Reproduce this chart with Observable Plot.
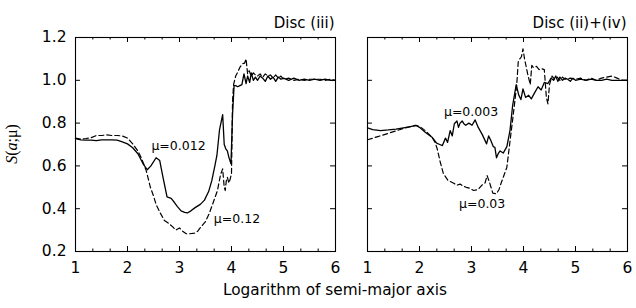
<!DOCTYPE html>
<html>
<head>
<meta charset="utf-8">
<script src="https://cdn.jsdelivr.net/npm/d3@7"></script>
<script src="https://cdn.jsdelivr.net/npm/@observablehq/plot@0.6"></script>
<style>
  html, body { margin: 0; padding: 0; background: #fff; }
  #wrap { position: relative; width: 636px; height: 308px; font-family: "DejaVu Sans", sans-serif; }
  #xlabel { position: absolute; left: 0; width: 670px; top: 281px; text-align: center; font-size: 15.3px; color: #000; }
  #ylabel { position: absolute; left: 12px; top: 144px; transform: translate(-50%, -50%) rotate(-90deg); font-family: "Liberation Serif", "DejaVu Serif", serif; font-size: 16px; white-space: nowrap; color: #000; }
</style>
</head>
<body>
<div id="wrap">
  <div id="chart"></div>
  <div id="xlabel">Logarithm of semi-major axis</div>
  <div id="ylabel"><i>S</i>(<i>a</i>;μ)</div>
</div>
<script>
// Panels and titles
const panels = ["iii", "ii+iv"];
const panelTitles = ["Disc (iii)", "Disc (ii)+(iv)"];

// Axis ticks
const xTicks = [1, 2, 3, 4, 5, 6];
const yTicks = [0.2, 0.4, 0.6, 0.8, 1.0, 1.2];

// Left panel, solid: mu = 0.012
const leftSolidX = [1.0,1.1,1.2,1.3,1.4,1.5,1.6,1.7,1.8,1.9,2.0,2.1,2.2,2.3,2.38,2.45,2.55,2.62,2.68,2.76,2.84,2.9,2.96,3.03,3.1,3.15,3.22,3.3,3.4,3.48,3.56,3.62,3.68,3.72,3.77,3.83,3.86,3.89,3.92,3.95,3.99,4.02,4.05,4.08,4.12,4.16,4.2,4.24,4.28,4.31,4.35,4.38,4.42,4.46,4.5,4.55,4.6,4.65,4.7,4.75,4.8,4.85,4.9,4.95,5.0,5.1,5.2,5.3,5.4,5.5,5.6,5.7,5.8,5.9,6.0];
const leftSolidY = [0.728,0.722,0.720,0.720,0.718,0.722,0.722,0.722,0.720,0.712,0.703,0.685,0.657,0.61,0.582,0.60,0.638,0.625,0.55,0.455,0.448,0.43,0.41,0.39,0.383,0.38,0.39,0.405,0.42,0.44,0.48,0.53,0.60,0.65,0.77,0.84,0.70,0.68,0.67,0.64,0.61,0.84,0.975,0.975,0.97,0.975,0.98,1.03,0.985,1.02,0.99,1.035,1.0,1.015,1.0,1.02,1.01,0.995,1.02,1.005,1.015,0.995,1.015,1.005,1.01,1.0,1.01,1.0,1.005,1.0,1.005,1.0,1.005,1.0,1.0];

// Left panel, dashed: mu = 0.12
const leftDashX = [1.0,1.1,1.2,1.3,1.4,1.5,1.6,1.7,1.8,1.9,2.0,2.1,2.2,2.26,2.31,2.36,2.44,2.5,2.55,2.63,2.71,2.8,2.87,2.93,3.0,3.06,3.13,3.2,3.29,3.35,3.41,3.5,3.57,3.65,3.73,3.79,3.83,3.86,3.88,3.9,3.92,3.95,3.97,4.0,4.02,4.04,4.08,4.12,4.16,4.21,4.25,4.28,4.31,4.34,4.38,4.42,4.46,4.5,4.55,4.6,4.65,4.7,4.75,4.8,4.85,4.9,4.95,5.0,5.1,5.2,5.3,5.4,5.5,5.6,5.7,5.8,5.9,6.0];
const leftDashY = [0.73,0.725,0.728,0.732,0.742,0.742,0.745,0.742,0.742,0.74,0.73,0.703,0.67,0.64,0.61,0.578,0.50,0.46,0.42,0.38,0.345,0.33,0.315,0.30,0.31,0.295,0.283,0.283,0.286,0.295,0.314,0.34,0.376,0.43,0.485,0.56,0.586,0.50,0.485,0.53,0.547,0.52,0.535,0.563,0.90,0.98,1.02,1.038,1.06,1.077,1.08,1.10,1.03,1.045,1.02,1.035,1.025,1.02,1.03,1.015,1.03,1.02,1.025,1.01,1.025,1.01,1.02,1.005,1.01,1.0,1.005,1.0,1.005,1.005,1.005,1.0,1.005,1.0];

// Right panel, solid: mu = 0.003
const rightSolidX = [1.0,1.1,1.25,1.4,1.55,1.69,1.8,1.94,2.0,2.11,2.24,2.33,2.39,2.44,2.5,2.54,2.59,2.63,2.67,2.72,2.75,2.78,2.82,2.86,2.89,2.95,3.01,3.07,3.13,3.21,3.29,3.33,3.37,3.42,3.45,3.48,3.52,3.55,3.61,3.68,3.74,3.79,3.86,3.91,3.95,3.99,4.04,4.1,4.15,4.21,4.28,4.34,4.4,4.47,4.53,4.58,4.62,4.66,4.7,4.75,4.8,4.85,4.9,4.95,5.0,5.1,5.2,5.3,5.4,5.5,5.6,5.7,5.8,5.9,6.0];
const rightSolidY = [0.778,0.77,0.765,0.768,0.772,0.778,0.782,0.789,0.78,0.757,0.734,0.706,0.70,0.695,0.73,0.71,0.765,0.74,0.797,0.81,0.78,0.80,0.81,0.795,0.79,0.80,0.79,0.815,0.78,0.745,0.703,0.74,0.72,0.69,0.687,0.638,0.66,0.67,0.66,0.69,0.765,0.88,0.98,0.93,0.91,0.96,0.92,0.93,0.913,0.94,0.97,0.955,0.99,0.985,1.01,1.0,1.02,0.995,1.015,1.0,1.01,1.005,0.995,1.01,1.0,1.005,1.0,1.005,1.0,1.0,1.005,1.0,1.0,1.0,1.0];

// Right panel, dashed: mu = 0.03
const rightDashX = [1.0,1.2,1.4,1.6,1.69,1.8,1.92,2.0,2.11,2.24,2.3,2.34,2.4,2.46,2.55,2.65,2.72,2.78,2.84,2.9,2.97,3.04,3.13,3.2,3.26,3.3,3.35,3.41,3.48,3.53,3.57,3.63,3.68,3.75,3.82,3.87,3.9,3.96,3.99,4.02,4.08,4.13,4.16,4.19,4.25,4.3,4.34,4.4,4.44,4.47,4.5,4.55,4.6,4.65,4.7,4.75,4.8,4.9,5.0,5.1,5.2,5.3,5.4,5.5,5.6,5.7,5.8,5.9,6.0];
const rightDashY = [0.722,0.737,0.752,0.768,0.775,0.782,0.789,0.785,0.765,0.734,0.71,0.68,0.617,0.563,0.532,0.52,0.51,0.515,0.505,0.50,0.495,0.485,0.49,0.51,0.52,0.555,0.52,0.473,0.47,0.49,0.52,0.56,0.594,0.734,0.874,0.98,1.09,1.11,1.147,1.10,1.03,0.98,1.07,1.06,1.065,1.05,1.055,1.05,0.92,0.89,0.98,1.02,1.005,1.015,1.0,1.015,1.005,1.01,1.005,1.01,1.0,1.01,1.0,1.01,1.015,1.02,1.01,1.0,1.0];

// Curve annotations
const annoPanel = ["iii", "iii", "ii+iv", "ii+iv"];
const annoText = ["μ=0.012", "μ=0.12", "μ=0.003", "μ=0.03"];
const annoX = [2.46, 3.66, 2.47, 2.76];
const annoY = [0.695, 0.354, 0.851, 0.42];

// Build tables
function series(panel, dashed, xs, ys) {
  return xs.map((x, i) => ({panel, dashed, x, y: ys[i]}));
}
const solid = [...series("iii", false, leftSolidX, leftSolidY), ...series("ii+iv", false, rightSolidX, rightSolidY)];
const dashed = [...series("iii", true, leftDashX, leftDashY), ...series("ii+iv", true, rightDashX, rightDashY)];
const titles = panels.map((p, i) => ({panel: p, text: panelTitles[i]}));
const annos = annoText.map((t, i) => ({panel: annoPanel[i], text: t, x: annoX[i], y: annoY[i]}));

const minorX = [];
for (let k = 1; k < 6; k++) { minorX.push(k + 1/3, k + 2/3); }

const pxX = 5 / 52.2;     // tick length in x units
const pxY = 0.2 / 42.8;   // per pixel in y units
const font = "'DejaVu Sans', sans-serif";

const chart = Plot.plot({
  width: 636,
  height: 308,
  marginTop: 37,
  marginBottom: 57,
  marginLeft: 74,
  marginRight: 8,
  style: {fontFamily: font, background: "white", color: "black"},
  fx: {domain: panels, paddingInner: 0.109, paddingOuter: 0, axis: null, label: null},
  x: {domain: [1, 6], axis: null},
  y: {domain: [0.2, 1.2], axis: null},
  marks: [
    Plot.frame({stroke: "black", strokeWidth: 1.1}),
    // inward ticks
    Plot.ruleX(xTicks, {x: d => d, y1: 0.2, y2: 0.2 + 5 * pxY, stroke: "black"}),
    Plot.ruleX(xTicks, {x: d => d, y1: 1.2, y2: 1.2 - 5 * pxY, stroke: "black"}),
    Plot.ruleX(minorX, {x: d => d, y1: 0.2, y2: 0.2 + 2.5 * pxY, stroke: "black"}),
    Plot.ruleX(minorX, {x: d => d, y1: 1.2, y2: 1.2 - 2.5 * pxY, stroke: "black"}),
    Plot.ruleY(yTicks, {y: d => d, x1: 1, x2: 1 + pxX, stroke: "black"}),
    Plot.ruleY(yTicks, {y: d => d, x1: 6, x2: 6 - pxX, stroke: "black"}),
    // tick labels
    Plot.axisY(yTicks, {anchor: "left", tickSize: 0, tickPadding: 9, tickFormat: d => d.toFixed(1), fontSize: 15.5, label: null}),
    Plot.axisX(xTicks, {anchor: "bottom", tickSize: 0, tickPadding: 10, tickFormat: d => String(d), fontSize: 15.5, label: null}),
    // curves
    Plot.line(solid, {fx: "panel", x: "x", y: "y", stroke: "black", strokeWidth: 1.3}),
    Plot.line(dashed, {fx: "panel", x: "x", y: "y", stroke: "black", strokeWidth: 1.2, strokeDasharray: "5,3"}),
    // annotations
    Plot.text(annos, {fx: "panel", x: "x", y: "y", text: "text", textAnchor: "start", fontSize: 12.5, fill: "black"}),
    // panel titles
    Plot.text(titles, {fx: "panel", text: "text", frameAnchor: "top-right", dy: -20, dx: -1, textAnchor: "end", fontSize: 15, fill: "black"})
  ]
});
document.getElementById("chart").appendChild(chart);
</script>
</body>
</html>
